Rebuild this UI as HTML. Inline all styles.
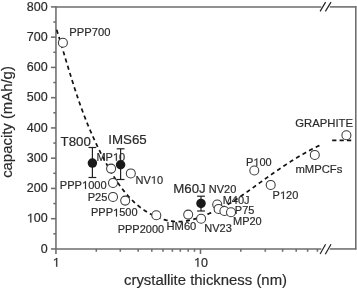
<!DOCTYPE html>
<html><head><meta charset="utf-8"><style>
html,body{margin:0;padding:0;background:#fff;}
svg{display:block;font-family:"Liberation Sans", sans-serif;will-change:transform;}
text{stroke:#2a2a2a;stroke-width:0.18px;}
.h{fill-opacity:0;stroke-opacity:0;}
</style></head><body>
<svg width="357" height="289" viewBox="0 0 357 289">
<rect width="357" height="289" fill="#fff"/>
<line x1="55.95" y1="6.300000000000001" x2="55.95" y2="249.54999999999998" stroke="#6c6c6c" stroke-width="1.55" /><line x1="355.8" y1="6.300000000000001" x2="355.8" y2="249.54999999999998" stroke="#6c6c6c" stroke-width="1.55" /><line x1="55.95" y1="248.95" x2="321.3" y2="248.95" stroke="#6c6c6c" stroke-width="1.55" /><line x1="329.8" y1="248.95" x2="356.40000000000003" y2="248.95" stroke="#6c6c6c" stroke-width="1.55" /><line x1="55.95" y1="6.9" x2="321.3" y2="6.9" stroke="#6c6c6c" stroke-width="1.55" /><line x1="329.8" y1="6.9" x2="356.40000000000003" y2="6.9" stroke="#6c6c6c" stroke-width="1.55" /><line x1="320.1" y1="254" x2="325.6" y2="244.2" stroke="#222" stroke-width="1.2" /><line x1="325.3" y1="254.3" x2="331" y2="244.2" stroke="#222" stroke-width="1.2" /><line x1="320.1" y1="11.4" x2="325.6" y2="2.1" stroke="#222" stroke-width="1.2" /><line x1="325.4" y1="11.4" x2="331" y2="2.1" stroke="#222" stroke-width="1.2" /><line x1="50.95" y1="248.95" x2="55.95" y2="248.95" stroke="#6c6c6c" stroke-width="1.55" /><text x="47.7" y="252.7" font-size="12.5" text-anchor="end" fill="#2a2a2a" >0</text><line x1="50.95" y1="218.69375" x2="55.95" y2="218.69375" stroke="#6c6c6c" stroke-width="1.55" /><text x="47.7" y="222.44375" font-size="12.5" text-anchor="end" fill="#2a2a2a"  class="o1"><tspan class="h">1</tspan>00</text><line x1="50.95" y1="188.4375" x2="55.95" y2="188.4375" stroke="#6c6c6c" stroke-width="1.55" /><text x="47.7" y="192.1875" font-size="12.5" text-anchor="end" fill="#2a2a2a" >200</text><line x1="50.95" y1="158.18124999999998" x2="55.95" y2="158.18124999999998" stroke="#6c6c6c" stroke-width="1.55" /><text x="47.7" y="161.93124999999998" font-size="12.5" text-anchor="end" fill="#2a2a2a" >300</text><line x1="50.95" y1="127.925" x2="55.95" y2="127.925" stroke="#6c6c6c" stroke-width="1.55" /><text x="47.7" y="131.675" font-size="12.5" text-anchor="end" fill="#2a2a2a" >400</text><line x1="50.95" y1="97.66874999999999" x2="55.95" y2="97.66874999999999" stroke="#6c6c6c" stroke-width="1.55" /><text x="47.7" y="101.41874999999999" font-size="12.5" text-anchor="end" fill="#2a2a2a" >500</text><line x1="50.95" y1="67.4125" x2="55.95" y2="67.4125" stroke="#6c6c6c" stroke-width="1.55" /><text x="47.7" y="71.1625" font-size="12.5" text-anchor="end" fill="#2a2a2a" >600</text><line x1="50.95" y1="37.15625" x2="55.95" y2="37.15625" stroke="#6c6c6c" stroke-width="1.55" /><text x="47.7" y="40.90625" font-size="12.5" text-anchor="end" fill="#2a2a2a" >700</text><line x1="50.95" y1="6.900000000000006" x2="55.95" y2="6.900000000000006" stroke="#6c6c6c" stroke-width="1.55" /><text x="47.7" y="10.650000000000006" font-size="12.5" text-anchor="end" fill="#2a2a2a" >800</text><line x1="53.35" y1="233.82187499999998" x2="55.95" y2="233.82187499999998" stroke="#6c6c6c" stroke-width="1.55" /><line x1="53.35" y1="203.56562499999998" x2="55.95" y2="203.56562499999998" stroke="#6c6c6c" stroke-width="1.55" /><line x1="53.35" y1="173.309375" x2="55.95" y2="173.309375" stroke="#6c6c6c" stroke-width="1.55" /><line x1="53.35" y1="143.053125" x2="55.95" y2="143.053125" stroke="#6c6c6c" stroke-width="1.55" /><line x1="53.35" y1="112.796875" x2="55.95" y2="112.796875" stroke="#6c6c6c" stroke-width="1.55" /><line x1="53.35" y1="82.540625" x2="55.95" y2="82.540625" stroke="#6c6c6c" stroke-width="1.55" /><line x1="53.35" y1="52.28437500000001" x2="55.95" y2="52.28437500000001" stroke="#6c6c6c" stroke-width="1.55" /><line x1="53.35" y1="22.028125000000017" x2="55.95" y2="22.028125000000017" stroke="#6c6c6c" stroke-width="1.55" /><line x1="55.95" y1="248.95" x2="55.95" y2="253.95" stroke="#6c6c6c" stroke-width="1.55" /><line x1="200.5" y1="248.95" x2="200.5" y2="253.95" stroke="#6c6c6c" stroke-width="1.55" /><line x1="96.3" y1="248.95" x2="96.3" y2="251.75" stroke="#6c6c6c" stroke-width="1.55" /><line x1="120.3" y1="248.95" x2="120.3" y2="251.75" stroke="#6c6c6c" stroke-width="1.55" /><line x1="138.2" y1="248.95" x2="138.2" y2="251.75" stroke="#6c6c6c" stroke-width="1.55" /><line x1="151.8" y1="248.95" x2="151.8" y2="251.75" stroke="#6c6c6c" stroke-width="1.55" /><line x1="163" y1="248.95" x2="163" y2="251.75" stroke="#6c6c6c" stroke-width="1.55" /><line x1="172.4" y1="248.95" x2="172.4" y2="251.75" stroke="#6c6c6c" stroke-width="1.55" /><line x1="180.3" y1="248.95" x2="180.3" y2="251.75" stroke="#6c6c6c" stroke-width="1.55" /><line x1="188.2" y1="248.95" x2="188.2" y2="251.75" stroke="#6c6c6c" stroke-width="1.55" /><line x1="194.5" y1="248.95" x2="194.5" y2="251.75" stroke="#6c6c6c" stroke-width="1.55" /><line x1="240.8" y1="248.95" x2="240.8" y2="251.75" stroke="#6c6c6c" stroke-width="1.55" /><line x1="265.3" y1="248.95" x2="265.3" y2="251.75" stroke="#6c6c6c" stroke-width="1.55" /><line x1="282.6" y1="248.95" x2="282.6" y2="251.75" stroke="#6c6c6c" stroke-width="1.55" /><line x1="296.2" y1="248.95" x2="296.2" y2="251.75" stroke="#6c6c6c" stroke-width="1.55" /><line x1="307.6" y1="248.95" x2="307.6" y2="251.75" stroke="#6c6c6c" stroke-width="1.55" /><line x1="317.4" y1="248.95" x2="317.4" y2="251.75" stroke="#6c6c6c" stroke-width="1.55" /><text x="56.25" y="266.7" font-size="12.5" text-anchor="middle" fill="#2a2a2a"  class="o1"><tspan class="h">1</tspan></text><text x="200.9" y="266.7" font-size="12.5" text-anchor="middle" fill="#2a2a2a"  class="o1"><tspan class="h">1</tspan>0</text><text x="205.5" y="284.5" font-size="14.9" text-anchor="middle" fill="#2a2a2a" >crystallite thickness (nm)</text><text x="0" y="0" font-size="14.9" text-anchor="middle" fill="#2a2a2a" transform="translate(11.7,122.0) rotate(-90)">capacity (mAh/g)</text>
<path d="M56.09,27.92 L56.39,28.88 L56.70,29.84 L57.00,30.80 L57.30,31.77 L57.60,32.73 L57.90,33.69 L58.20,34.66 L58.50,35.63 L58.80,36.59 L59.10,37.56 L59.39,38.53 L59.69,39.50 L59.99,40.47 L60.28,41.43 L60.58,42.40 L60.87,43.38 L61.17,44.35 L61.46,45.32 L61.75,46.29 L62.05,47.26 L62.34,48.23 L62.63,49.21 L62.93,50.18 L63.22,51.15 L63.51,52.13 L63.81,53.10 L64.10,54.08 L64.39,55.05 L64.68,56.03 L64.98,57.00 L65.27,57.98 L65.56,58.95 L65.86,59.93 L66.15,60.90 L66.44,61.88 L66.74,62.86 L67.03,63.83 L67.33,64.81 L67.62,65.78 L67.92,66.76 L68.22,67.74 L68.51,68.71 L68.81,69.69 L69.11,70.66 L69.41,71.64 L69.70,72.61 L70.00,73.59 L70.30,74.56 L70.61,75.54 L70.91,76.51 L71.21,77.49 L71.51,78.46 L71.82,79.44 L72.12,80.41 L72.43,81.38 L72.74,82.36 L73.04,83.33 L73.35,84.30 L73.66,85.27 L73.98,86.24 L74.29,87.21 L74.60,88.18 L74.92,89.15 L75.23,90.12 L75.55,91.09 L75.87,92.06 L76.19,93.03 L76.51,93.99 L76.83,94.96 L77.16,95.93 L77.48,96.89 L77.81,97.86 L78.14,98.82 L78.47,99.78 L78.80,100.74 L79.13,101.71 L79.47,102.67 L79.80,103.63 L80.14,104.58 L80.48,105.54 L80.83,106.50 L81.17,107.46 L81.52,108.41 L81.86,109.37 L82.21,110.32 L82.57,111.27 L82.92,112.22 L83.27,113.17 L83.63,114.12 L83.99,115.07 L84.35,116.02 L84.72,116.96 L85.09,117.91 L85.45,118.85 L85.83,119.80 L86.20,120.74 L86.57,121.68 L86.95,122.62 L87.33,123.56 L87.71,124.49 L88.10,125.43 L88.49,126.36 L88.88,127.30 L89.27,128.23 L89.66,129.16 L90.06,130.09 L90.46,131.02 L90.86,131.95 L91.26,132.88 L91.67,133.81 L92.07,134.73 L92.49,135.66 L92.90,136.58 L93.31,137.50 L93.73,138.42 L94.15,139.35 L94.58,140.27 L95.00,141.18 L95.43,142.10 L95.86,143.02 L96.29,143.94 L96.73,144.85 L97.17,145.77 L97.61,146.68 L98.05,147.59 L98.50,148.50 L98.94,149.42 L99.40,150.33 L99.85,151.23 L100.30,152.14 L100.76,153.05 L101.22,153.96 L101.69,154.86 L102.16,155.77 L102.62,156.67 L103.10,157.58 L103.57,158.48 L104.05,159.38 L104.53,160.29 L105.01,161.19 L105.50,162.09 L105.98,162.99 L106.47,163.88 L106.97,164.78 L107.46,165.68 L107.96,166.58 L108.47,167.47 L108.97,168.37 L109.48,169.26 L109.99,170.15 L110.51,171.04 L111.03,171.92 L111.55,172.81 L112.08,173.69 L112.61,174.57 L113.15,175.45 L113.68,176.32 L114.23,177.19 L114.78,178.06 L115.33,178.93 L115.89,179.79 L116.45,180.65 L117.01,181.50 L117.59,182.35 L118.16,183.20 L118.74,184.04 L119.33,184.88 L119.92,185.71 L120.52,186.54 L121.13,187.36 L121.74,188.18 L122.35,188.99 L122.97,189.80 L123.60,190.60 L124.23,191.40 L124.87,192.19 L125.52,192.97 L126.17,193.75 L126.83,194.52 L127.50,195.29 L128.17,196.05 L128.85,196.80 L129.54,197.54 L130.23,198.28 L130.94,199.01 L131.65,199.73 L132.36,200.44 L133.09,201.15 L133.82,201.85 L134.56,202.54 L135.31,203.22 L136.06,203.89 L136.83,204.56 L137.60,205.22 L138.38,205.86 L139.17,206.50 L139.97,207.13 L140.78,207.75 L141.59,208.36 L142.41,208.95 L143.25,209.54 L144.09,210.12 L144.93,210.69 L145.79,211.24 L146.65,211.79 L147.52,212.32 L148.39,212.84 L149.28,213.35 L150.17,213.85 L151.06,214.33 L151.96,214.80 L152.87,215.26 L153.79,215.70 L154.71,216.13 L155.63,216.55 L156.56,216.95 L157.50,217.33 L158.44,217.71 L159.38,218.06 L160.33,218.40 L161.29,218.73 L162.25,219.04 L163.21,219.33 L164.17,219.61 L165.14,219.87 L166.12,220.12 L167.09,220.34 L168.07,220.55 L169.06,220.74 L170.04,220.92 L171.03,221.07 L172.02,221.21 L173.02,221.33 L174.01,221.43 L175.01,221.50 L176.01,221.56 L177.01,221.60 L178.01,221.62 L179.01,221.62 L180.01,221.60 L181.02,221.56 L182.02,221.50 L183.03,221.41 L184.03,221.31 L185.04,221.18 L186.04,221.03 L187.05,220.86 L188.05,220.67 L189.06,220.47 L190.06,220.24 L191.06,220.00 L192.06,219.74 L193.06,219.47 L194.06,219.18 L195.06,218.88 L196.06,218.57 L197.05,218.24 L198.04,217.91 L199.03,217.56 L200.02,217.20 L201.01,216.84 L201.99,216.46 L202.97,216.08 L203.95,215.70 L204.92,215.30 L205.90,214.90 L206.87,214.50 L207.83,214.10 L208.79,213.69 L209.75,213.28 L210.71,212.87 L211.66,212.46 L212.60,212.04 L213.55,211.63 L214.49,211.21 L215.42,210.79 L216.35,210.36 L217.28,209.93 L218.20,209.49 L219.12,209.05 L220.04,208.61 L220.95,208.16 L221.85,207.70 L222.75,207.24 L223.65,206.77 L224.55,206.29 L225.43,205.81 L226.32,205.32 L227.20,204.82 L228.08,204.32 L228.95,203.81 L229.83,203.30 L230.69,202.78 L231.56,202.26 L232.42,201.73 L233.28,201.20 L234.13,200.66 L234.99,200.12 L235.84,199.57 L236.69,199.02 L237.53,198.47 L238.38,197.91 L239.22,197.35 L240.06,196.79 L240.89,196.22 L241.73,195.65 L242.56,195.07 L243.40,194.50 L244.23,193.92 L245.06,193.34 L245.89,192.75 L246.72,192.17 L247.54,191.58 L248.37,190.99 L249.20,190.40 L250.02,189.81 L250.85,189.22 L251.67,188.63 L252.49,188.03 L253.32,187.44 L254.14,186.84 L254.97,186.25 L255.79,185.65 L256.62,185.06 L257.44,184.46 L258.27,183.87 L259.10,183.27 L259.92,182.68 L260.75,182.08 L261.58,181.49 L262.41,180.89 L263.23,180.30 L264.06,179.71 L264.89,179.11 L265.72,178.52 L266.55,177.93 L267.39,177.34 L268.22,176.75 L269.05,176.16 L269.88,175.57 L270.72,174.99 L271.55,174.40 L272.39,173.81 L273.23,173.23 L274.06,172.65 L274.90,172.07 L275.74,171.49 L276.58,170.91 L277.42,170.33 L278.27,169.75 L279.11,169.18 L279.95,168.61 L280.80,168.03 L281.65,167.47 L282.49,166.90 L283.34,166.33 L284.19,165.77 L285.05,165.21 L285.90,164.65 L286.75,164.09 L287.61,163.53 L288.46,162.98 L289.32,162.43 L290.18,161.88 L291.04,161.33 L291.90,160.79 L292.77,160.25 L293.63,159.71 L294.50,159.17 L295.37,158.64 L296.24,158.10 L297.11,157.58 L297.98,157.05 L298.85,156.53 L299.73,156.01 L300.61,155.49 L301.49,154.98 L302.37,154.47 L303.25,153.96 L304.14,153.46 L305.03,152.96 L305.91,152.46 L306.80,151.96 L307.70,151.47 L308.59,150.99 L309.49,150.50 L310.39,150.02 L311.29,149.55 L312.19,149.08 L313.10,148.61 L314.00,148.14 L314.91,147.68 L315.82,147.23 L316.74,146.77 L317.65,146.33 L318.57,145.88 L319.49,145.44 L320.41,145.01 L321.34,144.58" fill="none" stroke="#111" stroke-width="1.7" stroke-dasharray="4.1 3.41" stroke-dashoffset="-2.0"/><line x1="332.2" y1="140.3" x2="353.8" y2="140.3" stroke="#111" stroke-width="1.8" stroke-dasharray="4.2 3.2"/><circle cx="62.9" cy="42.8" r="4.5" fill="#fff" stroke="#3a3a3a" stroke-width="1.05"/><circle cx="111.1" cy="168.6" r="4.5" fill="#fff" stroke="#3a3a3a" stroke-width="1.05"/><circle cx="130.8" cy="173.4" r="4.5" fill="#fff" stroke="#3a3a3a" stroke-width="1.05"/><circle cx="113.0" cy="182.9" r="4.5" fill="#fff" stroke="#3a3a3a" stroke-width="1.05"/><circle cx="113.0" cy="196.9" r="4.5" fill="#fff" stroke="#3a3a3a" stroke-width="1.05"/><circle cx="125.2" cy="200.6" r="4.5" fill="#fff" stroke="#3a3a3a" stroke-width="1.05"/><circle cx="156.3" cy="215.2" r="4.5" fill="#fff" stroke="#3a3a3a" stroke-width="1.05"/><circle cx="188.2" cy="214.6" r="4.5" fill="#fff" stroke="#3a3a3a" stroke-width="1.05"/><circle cx="201.1" cy="218.8" r="4.5" fill="#fff" stroke="#3a3a3a" stroke-width="1.05"/><circle cx="217.2" cy="204.5" r="4.5" fill="#fff" stroke="#3a3a3a" stroke-width="1.05"/><circle cx="218.6" cy="208.9" r="4.5" fill="#fff" stroke="#3a3a3a" stroke-width="1.05"/><circle cx="224.4" cy="211.0" r="4.5" fill="#fff" stroke="#3a3a3a" stroke-width="1.05"/><circle cx="231.0" cy="212.2" r="4.5" fill="#fff" stroke="#3a3a3a" stroke-width="1.05"/><circle cx="254.3" cy="170.5" r="4.5" fill="#fff" stroke="#3a3a3a" stroke-width="1.05"/><circle cx="270.7" cy="184.9" r="4.5" fill="#fff" stroke="#3a3a3a" stroke-width="1.05"/><circle cx="314.8" cy="154.9" r="4.5" fill="#fff" stroke="#3a3a3a" stroke-width="1.05"/><circle cx="346.4" cy="135.3" r="4.5" fill="#fff" stroke="#3a3a3a" stroke-width="1.05"/><line x1="92.4" y1="147.5" x2="92.4" y2="177.5" stroke="#222" stroke-width="1.2" /><line x1="88.5" y1="147.5" x2="96.30000000000001" y2="147.5" stroke="#222" stroke-width="1.2" /><line x1="88.5" y1="177.5" x2="96.30000000000001" y2="177.5" stroke="#222" stroke-width="1.2" /><circle cx="92.4" cy="163.1" r="4.75" fill="#1a1a1a"/><line x1="120.6" y1="148.8" x2="120.6" y2="179.5" stroke="#222" stroke-width="1.2" /><line x1="116.69999999999999" y1="148.8" x2="124.5" y2="148.8" stroke="#222" stroke-width="1.2" /><line x1="116.69999999999999" y1="179.5" x2="124.5" y2="179.5" stroke="#222" stroke-width="1.2" /><circle cx="120.6" cy="164.75" r="4.75" fill="#1a1a1a"/><line x1="201" y1="196.2" x2="201" y2="211" stroke="#222" stroke-width="1.2" /><line x1="197.1" y1="196.2" x2="204.9" y2="196.2" stroke="#222" stroke-width="1.2" /><line x1="197.1" y1="211" x2="204.9" y2="211" stroke="#222" stroke-width="1.2" /><circle cx="201" cy="203.4" r="4.75" fill="#1a1a1a"/><text x="69.3" y="36.3" font-size="11.2" text-anchor="start" fill="#2a2a2a" >PPP700</text><text x="60.6" y="146.0" font-size="13.3" text-anchor="start" fill="#2a2a2a" >T800</text><text x="108.3" y="144.3" font-size="13.3" text-anchor="start" fill="#2a2a2a" >IMS65</text><text x="96.4" y="160.8" font-size="11" text-anchor="start" fill="#2a2a2a"  class="o1">MP<tspan class="h">1</tspan>0</text><text x="59.8" y="189.0" font-size="11.1" text-anchor="start" fill="#2a2a2a"  class="o1">PPP<tspan class="h">1</tspan>000</text><text x="87.7" y="201.1" font-size="11.1" text-anchor="start" fill="#2a2a2a" >P25</text><text x="91.0" y="216.4" font-size="11" text-anchor="start" fill="#2a2a2a"  class="o1">PPP<tspan class="h">1</tspan>500</text><text x="117.7" y="233.3" font-size="11" text-anchor="start" fill="#2a2a2a" >PPP2000</text><text x="166.5" y="230.2" font-size="11.2" text-anchor="start" fill="#2a2a2a" >HM60</text><text x="204.3" y="231.8" font-size="11" text-anchor="start" fill="#2a2a2a" >NV23</text><text x="173.2" y="192.9" font-size="13.3" text-anchor="start" fill="#2a2a2a" >M60J</text><text x="208.8" y="193.2" font-size="11" text-anchor="start" fill="#2a2a2a" >NV20</text><text x="222.7" y="203.8" font-size="11" text-anchor="start" fill="#2a2a2a" >M40J</text><text x="234.8" y="213.6" font-size="11" text-anchor="start" fill="#2a2a2a" >P75</text><text x="233" y="224.5" font-size="11" text-anchor="start" fill="#2a2a2a" >MP20</text><text x="135.5" y="183.7" font-size="11" text-anchor="start" fill="#2a2a2a"  class="o1">NV<tspan class="h">1</tspan>0</text><text x="246" y="166" font-size="11" text-anchor="start" fill="#2a2a2a"  class="o1">P<tspan class="h">1</tspan>00</text><text x="272.6" y="199" font-size="11" text-anchor="start" fill="#2a2a2a"  class="o1">P<tspan class="h">1</tspan>20</text><text x="295.3" y="126.9" font-size="11.3" text-anchor="start" fill="#2a2a2a" >GRAPHITE</text><text x="295.5" y="172.6" font-size="11.25" text-anchor="start" fill="#2a2a2a" >mMPCFs</text>
<path d="M555,0 L736,0 L736,1409 L585,1409 C500,1300 360,1215 205,1165 L205,1000 C340,1040 460,1110 555,1205 Z" transform="translate(26.84,222.44) scale(0.006104,-0.006104)" fill="#2a2a2a" stroke="#2a2a2a" stroke-width="29.5"/><path d="M555,0 L736,0 L736,1409 L585,1409 C500,1300 360,1215 205,1165 L205,1000 C340,1040 460,1110 555,1205 Z" transform="translate(52.77,266.70) scale(0.006104,-0.006104)" fill="#2a2a2a" stroke="#2a2a2a" stroke-width="29.5"/><path d="M555,0 L736,0 L736,1409 L585,1409 C500,1300 360,1215 205,1165 L205,1000 C340,1040 460,1110 555,1205 Z" transform="translate(193.95,266.70) scale(0.006104,-0.006104)" fill="#2a2a2a" stroke="#2a2a2a" stroke-width="29.5"/><path d="M555,0 L736,0 L736,1409 L585,1409 C500,1300 360,1215 205,1165 L205,1000 C340,1040 460,1110 555,1205 Z" transform="translate(112.90,160.80) scale(0.005371,-0.005371)" fill="#2a2a2a" stroke="#2a2a2a" stroke-width="33.5"/><path d="M555,0 L736,0 L736,1409 L585,1409 C500,1300 360,1215 205,1165 L205,1000 C340,1040 460,1110 555,1205 Z" transform="translate(82.00,189.00) scale(0.005420,-0.005420)" fill="#2a2a2a" stroke="#2a2a2a" stroke-width="33.2"/><path d="M555,0 L736,0 L736,1409 L585,1409 C500,1300 360,1215 205,1165 L205,1000 C340,1040 460,1110 555,1205 Z" transform="translate(113.02,216.40) scale(0.005371,-0.005371)" fill="#2a2a2a" stroke="#2a2a2a" stroke-width="33.5"/><path d="M555,0 L736,0 L736,1409 L585,1409 C500,1300 360,1215 205,1165 L205,1000 C340,1040 460,1110 555,1205 Z" transform="translate(150.78,183.70) scale(0.005371,-0.005371)" fill="#2a2a2a" stroke="#2a2a2a" stroke-width="33.5"/><path d="M555,0 L736,0 L736,1409 L585,1409 C500,1300 360,1215 205,1165 L205,1000 C340,1040 460,1110 555,1205 Z" transform="translate(253.34,166.00) scale(0.005371,-0.005371)" fill="#2a2a2a" stroke="#2a2a2a" stroke-width="33.5"/><path d="M555,0 L736,0 L736,1409 L585,1409 C500,1300 360,1215 205,1165 L205,1000 C340,1040 460,1110 555,1205 Z" transform="translate(279.94,199.00) scale(0.005371,-0.005371)" fill="#2a2a2a" stroke="#2a2a2a" stroke-width="33.5"/>
</svg>
</body></html>
